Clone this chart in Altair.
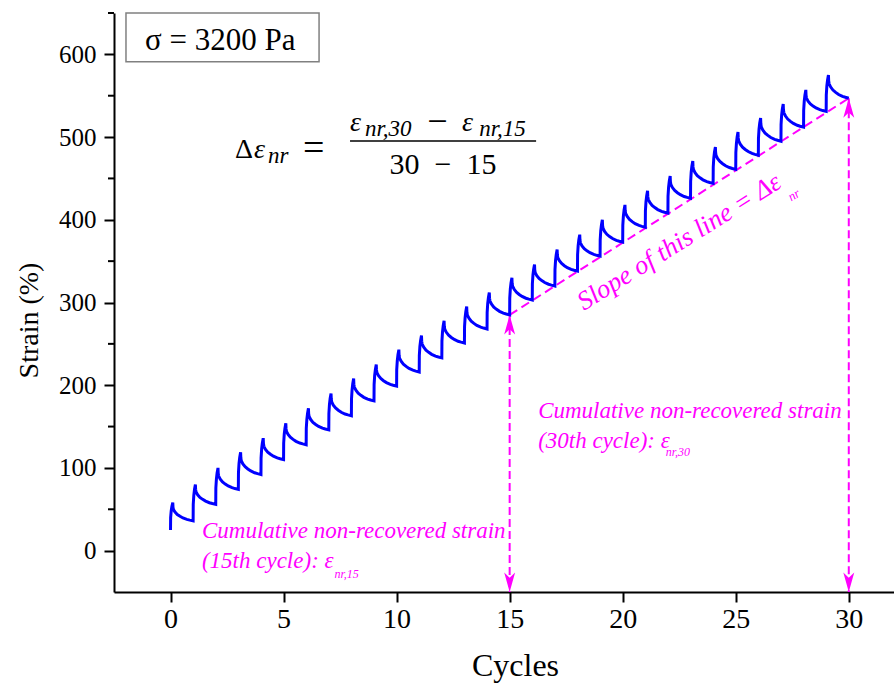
import altair as alt
import pandas as pd

# ---- strain record, one entry per creep/recovery cycle -----------------
start_strain = 25.0  # strain at the very start of cycle 1 (%)
peak_strain = [58, 80, 100, 119, 136, 154, 172, 190, 208, 225,
               243, 260, 278, 295, 312, 330, 346, 364, 382, 400,
               418, 435, 453, 471, 488, 506, 523, 540, 557, 575]
end_strain = [36, 56, 74, 92, 110, 128, 146, 163, 181, 199,
              216, 233, 251, 268, 285, 303, 320, 338, 356, 373,
              391, 408, 426, 444, 461, 478, 495, 512, 531, 547]

# shape of one cycle: creep (loading) part and recovery part,
# time as a fraction of the cycle, level as a fraction of the swing
creep_t = [0.0, 0.005, 0.03, 0.06, 0.1]
creep_f = [0.0, 0.45, 0.70, 0.86, 1.0]
recov_t = [0.11, 0.13, 0.2, 0.3, 0.42, 0.55, 0.72, 0.85, 1.0]
recov_f = [0.25, 0.38, 0.52, 0.65, 0.75, 0.84, 0.92, 0.96, 1.0]

x_ticks = [0, 5, 10, 15, 20, 25, 30]
y_ticks = [0, 100, 200, 300, 400, 500, 600]
y_minor = [50, 150, 250, 350, 450, 550, 650]

X_DOM = [-2.5, 32]
Y_DOM = [-50, 650]

FONT = "Liberation Serif"
MAGENTA = "#FF00FF"
BLUE = "#0000FF"

rows = []
prev = start_strain
for i, (pk, ev) in enumerate(zip(peak_strain, end_strain)):
    for j, (t, f) in enumerate(zip(creep_t, creep_f)):
        if i > 0 and j == 0:
            continue
        rows.append((i + t, prev + f * (pk - prev)))
    for t, f in zip(recov_t, recov_f):
        rows.append((i + t, pk - f * (pk - ev)))
    prev = ev
curve = pd.DataFrame(rows, columns=["cycle", "strain"])
curve["k"] = range(len(curve))

xs = alt.Scale(domain=X_DOM, nice=False, zero=False)
ys = alt.Scale(domain=Y_DOM, nice=False, zero=False)

x_axis = alt.Axis(values=x_ticks, title="Cycles", grid=False,
                  tickSize=10, tickWidth=2, tickColor="black",
                  domainWidth=2, domainColor="black",
                  labelFont=FONT, labelFontSize=28, labelColor="black",
                  labelPadding=3, titleFont=FONT, titleFontSize=32,
                  titleFontWeight="normal", titleColor="black",
                  titleY=83, titleX=401, titleBaseline="alphabetic")
y_axis = alt.Axis(values=y_ticks, title="Strain (%)", grid=False,
                  tickSize=10, tickWidth=2, tickColor="black",
                  domainWidth=2, domainColor="black",
                  labelFont=FONT, labelFontSize=25, labelColor="black",
                  labelPadding=8, titleFont=FONT, titleFontSize=28,
                  titleFontWeight="normal", titleColor="black",
                  titleX=-85, titleY=307, titleAlign="center",
                  titleBaseline="middle", titleAngle=270)

line = alt.Chart(curve).mark_line(color=BLUE, strokeWidth=3).encode(
    x=alt.X("cycle:Q", scale=xs, axis=x_axis),
    y=alt.Y("strain:Q", scale=ys, axis=y_axis),
    order="k:Q",
)

# minor ticks on the strain axis
minor = alt.Chart(pd.DataFrame({"v": y_minor})).mark_rule(
    color="black", strokeWidth=2
).encode(y=alt.Y("v:Q", scale=ys), x=alt.value(-6), x2=alt.value(0))

# construction lines: non-recovered strain at cycles 15 and 30
c15, c30 = 15, 30
e15, e30 = end_strain[c15 - 1], end_strain[c30 - 1]
ybot = Y_DOM[0]

slope = alt.Chart(pd.DataFrame({"cycle": [c15, c30], "strain": [e15, e30]})).mark_line(
    color=MAGENTA, strokeWidth=2, strokeDash=[9, 5]
).encode(x=alt.X("cycle:Q", scale=xs), y=alt.Y("strain:Q", scale=ys))

drops = alt.Chart(pd.DataFrame({"cycle": [c15, c30], "top": [e15, e30],
                                "bot": [ybot, ybot]})).mark_rule(
    color=MAGENTA, strokeWidth=2, strokeDash=[8, 4]
).encode(x=alt.X("cycle:Q", scale=xs), y=alt.Y("top:Q", scale=ys), y2="bot:Q")

UP = "M0,0 L0.42,1.5 L0,1.1 L-0.42,1.5 Z"
DOWN = "M0,0 L0.42,-1.5 L0,-1.1 L-0.42,-1.5 Z"
heads_up = alt.Chart(pd.DataFrame({"cycle": [c15, c30], "strain": [e15, e30]})).mark_point(
    shape=UP, filled=True, color=MAGENTA, size=676, opacity=1
).encode(x=alt.X("cycle:Q", scale=xs), y=alt.Y("strain:Q", scale=ys))
heads_dn = alt.Chart(pd.DataFrame({"cycle": [c15, c30], "strain": [ybot, ybot]})).mark_point(
    shape=DOWN, filled=True, color=MAGENTA, size=676, opacity=1
).encode(x=alt.X("cycle:Q", scale=xs), y=alt.Y("strain:Q", scale=ys))

# stress level box
box = alt.Chart(pd.DataFrame({"x": [-1.97], "x2": [6.57], "y": [650], "y2": [591]})).mark_rect(
    fill="white", stroke="#808080", strokeWidth=1.5
).encode(x=alt.X("x:Q", scale=xs), x2="x2:Q", y=alt.Y("y:Q", scale=ys), y2="y2:Q")


def label(df, **kw):
    base = dict(font=FONT, align="left", baseline="alphabetic")
    base.update(kw)
    return alt.Chart(pd.DataFrame(df)).mark_text(**base).encode(
        x=alt.X("x:Q", scale=xs), y=alt.Y("y:Q", scale=ys), text="t:N")


box_text = label({"x": [-1.13], "y": [605], "t": ["σ = 3200 Pa"]}, fontSize=31, color="black")

# formula for the non-recovered strain rate
f_delta = label({"x": [2.85], "y": [474.7], "t": ["Δ"]}, fontSize=28, color="black")
f_eq = label({"x": [5.86], "y": [472], "t": ["="]}, fontSize=38, color="black")
f_it = label({"x": [3.69, 7.94, 12.89], "y": [474.7, 507.3, 507.3], "t": ["ε", "ε", "ε"]},
             fontSize=28, color="black", fontStyle="italic")
f_sub = label({"x": [4.31, 8.60, 13.65], "y": [468.7, 501.3, 501.3], "t": ["nr", "nr,30", "nr,15"]},
              fontSize=23, color="black", fontStyle="italic")
f_minus = label({"x": [11.35], "y": [505], "t": ["−"]}, fontSize=36, color="black")
f_den = label({"x": [12.05], "y": [455.4], "t": ["30\u2002−\u200215"]}, fontSize=30,
              color="black", align="center")
f_bar = alt.Chart(pd.DataFrame({"x": [7.94], "x2": [16.17], "y": [495.3]})).mark_rule(
    color="black", strokeWidth=1.5
).encode(x=alt.X("x:Q", scale=xs), x2="x2:Q", y=alt.Y("y:Q", scale=ys))

# magenta notes
notes = label({"x": [1.39, 1.39, 16.26, 16.26],
               "y": [15.3, -21.0, 160.4, 124.1],
               "t": ["Cumulative non-recovered strain", "(15th cycle): ε",
                     "Cumulative non-recovered strain", "(30th cycle): ε"]},
              fontSize=23, color=MAGENTA, fontStyle="italic")
notes_sub = label({"x": [7.25, 21.9], "y": [-33.0, 114.4], "t": ["nr,15", "nr,30"]},
                  fontSize=12, color=MAGENTA, fontStyle="italic")
slope_txt = label({"x": [18.29], "y": [289.7], "t": ["Slope of this line = Δε"]},
                  fontSize=26.5, color=MAGENTA, fontStyle="italic", angle=328)
slope_sub = label({"x": [27.45], "y": [422], "t": ["nr"]},
                  fontSize=13, color=MAGENTA, fontStyle="italic", angle=328)

chart = alt.layer(
    box, box_text, slope, drops, heads_up, heads_dn, line, minor,
    f_delta, f_eq, f_it, f_sub, f_minus, f_den, f_bar,
    notes, notes_sub, slope_txt, slope_sub,
).properties(
    width=780, height=579,
    autosize=alt.AutoSizeParams(type="none"),
    padding={"left": 114, "top": 13, "right": 0, "bottom": 92},
    background="white",
).configure_view(stroke=None)

chart.save("out.html", embed_options={"renderer": "svg", "actions": False})
